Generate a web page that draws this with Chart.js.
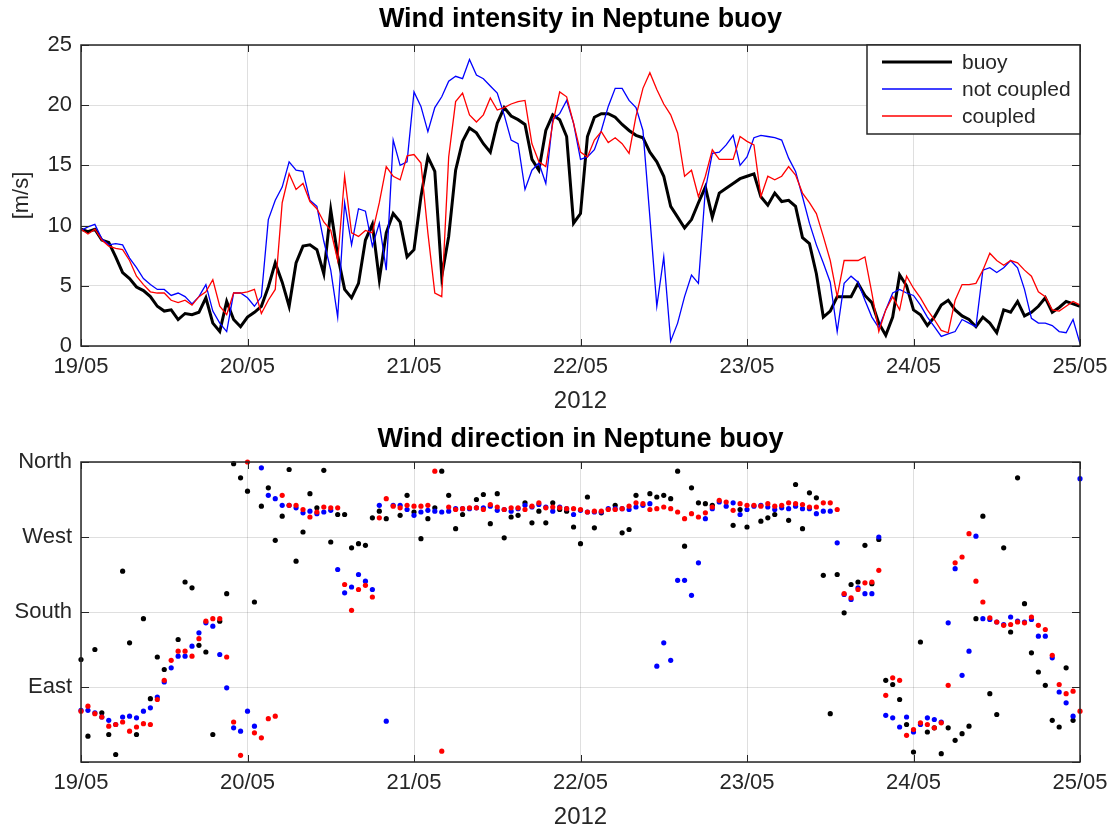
<!DOCTYPE html>
<html lang="en">
  <head>
    <meta charset="UTF-8" />
    <title>Wind in Neptune buoy</title>
    <style>
      * {
        box-sizing: border-box;
        margin: 0;
        padding: 0;
      }
      body {
        background: #fff;
        width: 1118px;
        height: 832px;
        overflow: hidden;
      }
      canvas {
        display: block;
      }
    </style>
  </head>
  <body>
    <canvas id="speed" width="1118" height="416"></canvas>
    <canvas id="direction" width="1118" height="416"></canvas>

    <script src="https://cdn.jsdelivr.net/npm/chart.js"></script>
    <script>
      // x axis: hours from 19/05 00:00, one tick per day
      const dayLabels = ["19/05", "20/05", "21/05", "22/05", "23/05", "24/05", "25/05"];
      const dirLabels = ["", "East", "South", "West", "North"];

      // wind speed [m/s], hourly, h0..h144
      const buoySpeed = [
        9.7, 9.5, 9.7, 8.8, 8.6, 7.4, 6.1, 5.6, 4.9, 4.6, 4.1, 3.3,
        2.9, 3.0, 2.2, 2.7, 2.6, 2.8, 4.0, 1.9, 1.2, 3.7, 2.2, 1.6,
        2.4, 2.8, 3.3, 4.9, 6.9, 5.3, 3.3, 6.9, 8.3, 8.4, 8.0, 6.0,
        11.3, 7.5, 4.7, 4.0, 5.2, 8.8, 10.1, 5.5, 9.4, 11.0, 10.3, 7.4,
        8.0, 12.4, 15.7, 14.5, 5.8, 9.1, 14.6, 17.0, 18.1, 17.7, 16.8, 16.1,
        18.5, 19.8, 19.1, 18.8, 18.4, 15.5, 14.6, 17.9, 19.2, 18.8, 17.4, 10.2,
        11.0, 17.4, 19.0, 19.3, 19.3, 19.0, 18.4, 17.9, 17.5, 17.3, 16.1, 15.3,
        14.1, 11.6, 10.7, 9.8, 10.5, 11.9, 13.2, 10.7, 12.7, 13.1, 13.5, 13.9,
        14.1, 14.3, 12.4, 11.7, 12.7, 12.0, 12.1, 11.6, 9.0, 8.5, 6.0, 2.4,
        2.9, 4.1, 4.1, 4.1, 5.2, 4.2, 3.6, 1.9, 0.9, 2.4, 5.9, 5.0,
        3.0, 2.6, 1.7, 2.4, 3.4, 3.8, 3.0, 2.5, 2.2, 1.6, 2.4, 1.9,
        1.1, 3.0, 2.8, 3.7, 2.5, 2.8, 3.3, 4.0, 2.8, 3.2, 3.7, 3.5,
        3.3,
      ];
      const notCoupledSpeed = [
        9.6, 9.9, 10.1, 8.9, 8.4, 8.5, 8.4, 7.3, 6.5, 5.6, 5.1, 4.7,
        4.7, 4.2, 4.4, 4.1, 3.5, 4.1, 5.1, 2.9, 1.9, 1.2, 4.4, 4.4,
        4.0, 3.3, 4.1, 10.5, 12.1, 13.2, 15.3, 14.6, 14.5, 12.1, 11.6, 8.7,
        6.3, 2.4, 11.9, 8.4, 11.4, 11.2, 8.3, 10.2, 6.3, 17.1, 15.0, 15.3,
        21.1, 19.9, 17.8, 19.8, 20.7, 22.0, 22.4, 22.2, 23.8, 22.5, 22.2, 21.6,
        21.0, 19.2, 17.1, 16.8, 13.0, 14.6, 15.2, 13.5, 18.8, 19.3, 20.4, 18.5,
        15.5, 15.7, 16.3, 17.9, 19.9, 21.4, 21.4, 20.4, 19.8, 17.9, 10.7, 3.3,
        7.4, 0.4, 1.9, 4.1, 5.9, 5.2, 13.0, 16.0, 16.1, 16.7, 17.5, 15.0,
        15.7, 17.3, 17.5, 17.4, 17.3, 17.1, 15.6, 14.5, 12.4, 10.2, 8.4, 6.9,
        5.3, 1.2, 5.2, 5.8, 5.3, 3.8, 2.4, 1.5, 3.0, 4.4, 4.7, 4.4,
        4.2, 3.4, 2.4, 1.6, 0.8, 1.0, 1.2, 2.2, 1.9, 1.6, 6.3, 6.5,
        6.1, 6.5, 7.1, 6.5, 4.7, 2.3, 1.9, 1.9, 1.7, 1.2, 1.1, 2.2,
        0.2,
      ];
      const coupledSpeed = [
        9.7, 9.3, 9.7, 8.8, 8.3, 8.1, 8.0, 7.1, 5.8, 5.1, 4.5, 4.4,
        4.4, 3.8, 3.6, 3.8, 3.4, 4.1, 4.5, 5.5, 3.3, 2.6, 4.4, 4.4,
        4.5, 4.7, 2.7, 3.8, 4.7, 11.9, 14.3, 13.0, 13.5, 12.0, 11.4, 10.3,
        9.6, 7.1, 14.1, 9.4, 9.1, 9.6, 9.4, 11.9, 14.9, 14.1, 13.8, 15.8,
        15.9, 15.2, 9.4, 4.4, 4.1, 15.7, 20.3, 21.0, 19.2, 18.6, 19.2, 20.6,
        19.6, 19.8, 20.1, 20.3, 20.4, 16.8, 15.3, 14.9, 18.5, 21.1, 20.7, 18.5,
        16.1, 15.7, 17.1, 17.8, 16.9, 17.3, 16.8, 16.0, 19.1, 21.4, 22.7, 21.3,
        20.1, 19.2, 17.7, 14.1, 14.6, 12.4, 14.1, 16.3, 15.5, 15.5, 15.5, 17.4,
        17.0, 16.7, 12.4, 14.1, 13.8, 14.1, 14.9, 14.2, 12.7, 11.9, 11.0, 9.1,
        7.1, 4.1, 7.1, 7.1, 7.1, 7.4, 4.4, 1.2, 3.0, 4.1, 3.0, 5.8,
        4.8, 4.0, 3.0, 2.2, 1.3, 1.1, 3.8, 5.1, 5.1, 5.2, 6.3, 7.7,
        7.1, 6.7, 7.1, 6.9, 6.3, 5.8, 4.5, 4.1, 3.0, 2.9, 3.3, 3.7,
        3.4,
      ];

      // wind direction [deg, 90 = East ... 360 = North], hourly, null = no sample
      const buoyDir = [
        123, 31, 135, 59, 33, 9, 229, 143, 33, 172, 76, 126,
        111, null, 147, 216, 209, 140, 132, 33, 169, 202, 358, 341,
        325, 192, 307, 329, 266, 295, 351, 241, 276, 322, 305, 350,
        264, 297, 297, 257, 262, 260, 293, 301, 292, null, 296, 320,
        300, 268, 292, 305, 349, 320, 280, 297, null, 315, 321, 286,
        322, 269, 294, 296, 311, 287, 301, 287, 311, 303, 301, 282,
        262, 318, 281, 299, null, 308, 275, 279, 320, null, 322, 318,
        320, 316, 349, 259, 329, 311, 310, 308, null, null, 284, 303,
        282, null, 289, 293, 297, null, 290, 333, 280, 323, 317, 224,
        58, 225, 179, 213, 216, 260, 214, 267, 98, 93, 75, 45,
        12, 144, 36, 41, 10, 41, 26, 34, 43, 172, 295, 82,
        57, 257, 156, 341, 190, 131, 108, 92, 50, 42, 113, 50,
        null,
      ];
      const notCoupledDir = [
        62, 62, 59, 54, 50, 45, 54, 55, 53, 61, 65, 78,
        96, 113, 127, 127, 139, 155, 167, 163, 129, 89, 41, 37,
        61, 43, 353, 320, 316, 308, 308, 305, 299, 301, 298, 300,
        302, 231, 203, 210, 225, 217, 207, 308, 49, 308, 308, 303,
        296, 300, 302, 301, 300, 301, 304, 304, 304, 305, 305, 307,
        302, 303, 301, 304, 308, 306, 309, 306, 301, 306, 304, 297,
        302, 300, 300, 300, 304, 304, 304, 303, 306, 308, 310, 115,
        143, 122, 218, 218, 200, 239, 292, 304, 312, 307, 311, 297,
        303, 307, 308, 306, 303, 305, 304, 307, 304, 304, 298, 301,
        301, 263, 201, 195, 209, 202, 202, 270, 56, 53, 42, 54,
        36, 45, 53, 51, 48, 167, 232, 104, 133, 271, 172, 171,
        168, 165, 174, 169, 168, 171, 151, 151, 125, 84, 71, 55,
        340,
      ];
      const coupledDir = [
        61, 67, 58, 54, 43, 45, 48, 37, 42, 46, 45, 75,
        98, 122, 133, 133, 127, 148, 169, 172, 172, 126, 48, 8,
        360, 35, 29, 52, 55, 320, 308, 308, 303, 294, 300, 306,
        305, 305, 213, 182, 207, 212, 198, 293, 316, 307, 305, 308,
        307, 307, 308, 349, 13, 306, 303, 304, 305, 305, 303, 309,
        306, 303, 305, 305, 303, 307, 311, 305, 306, 305, 304, 304,
        303, 300, 301, 301, 303, 303, 304, 307, 311, 310, 303, 304,
        306, 304, 300, 292, 298, 294, 299, 306, 314, 312, 302, 310,
        308, 308, 307, 310, 307, 308, 311, 310, 309, 306, 306, 311,
        311, 303, 202, 197, 207, 215, 216, 230, 80, 101, 98, 32,
        39, 47, 45, 41, 47, 92, 239, 246, 274, 217, 192, 173,
        168, 164, 165, 168, 167, 174, 164, 159, 128, 93, 82, 85,
        61,
      ];

      const textColor = "#262626";
      const gridColor = "rgba(38, 38, 38, 0.15)";
      const family = '"Liberation Sans", Arial, Helvetica, sans-serif';
      Chart.defaults.font.family = family;
      Chart.defaults.color = textColor;

      const toPoints = (values) => values.map((v, h) => ({ x: h, y: v }));

      // matlab-like box, inward ticks, centred title and boxed legend
      const matlabAxes = {
        id: "matlabAxes",
        afterDraw(chart, args, opts) {
          const { ctx, chartArea: a, scales } = chart;
          ctx.save();
          ctx.strokeStyle = textColor;
          ctx.lineWidth = 1;
          ctx.beginPath();
          scales.x.ticks.forEach((t) => {
            const px = Math.round(scales.x.getPixelForValue(t.value)) + 0.5;
            ctx.moveTo(px, a.bottom);
            ctx.lineTo(px, a.bottom - 7);
            ctx.moveTo(px, a.top);
            ctx.lineTo(px, a.top + 7);
          });
          scales.y.ticks.forEach((t) => {
            const py = Math.round(scales.y.getPixelForValue(t.value)) + 0.5;
            ctx.moveTo(a.left, py);
            ctx.lineTo(a.left + 8, py);
            ctx.moveTo(a.right, py);
            ctx.lineTo(a.right - 8, py);
          });
          ctx.stroke();

          ctx.lineWidth = 1.5;
          ctx.strokeRect(a.left, a.top, a.right - a.left, a.bottom - a.top);

          ctx.fillStyle = "#000";
          ctx.font = "bold 27px " + family;
          ctx.textAlign = "center";
          ctx.textBaseline = "middle";
          ctx.fillText(opts.title, (a.left + a.right) / 2, opts.titleY);

          if (opts.legend) {
            const bw = 213, bh = 89;
            const bx = a.right - bw, by = a.top;
            ctx.fillStyle = "#fff";
            ctx.fillRect(bx, by, bw, bh);
            ctx.strokeStyle = textColor;
            ctx.lineWidth = 1.5;
            ctx.strokeRect(bx, by, bw, bh);
            ctx.font = "21px " + family;
            ctx.textAlign = "left";
            chart.data.datasets.forEach((ds, i) => {
              const y = by + 17 + i * 27;
              ctx.strokeStyle = ds.borderColor;
              ctx.lineWidth = ds.borderWidth;
              ctx.beginPath();
              ctx.moveTo(bx + 15, y);
              ctx.lineTo(bx + 85, y);
              ctx.stroke();
              ctx.fillStyle = textColor;
              ctx.fillText(ds.label, bx + 95, y + 1);
            });
          }
          ctx.restore();
        },
      };

      function xScale() {
        return {
          type: "linear",
          min: 0,
          max: 144,
          afterFit: (s) => {
            s.height = 70;
          },
          ticks: {
            stepSize: 24,
            padding: 8,
            maxRotation: 0,
            autoSkip: false,
            font: { size: 22 },
            color: textColor,
            callback: (v) => dayLabels[v / 24],
          },
          grid: { color: gridColor, drawTicks: false },
          border: { display: false },
          title: {
            display: true,
            text: "2012",
            font: { size: 24 },
            color: textColor,
            padding: { top: 0, bottom: 0 },
          },
        };
      }

      function baseOptions(yScale, plugin, topPad) {
        return {
          responsive: false,
          animation: false,
          layout: { padding: { top: topPad, right: 38, bottom: 0, left: 0 } },
          plugins: {
            legend: { display: false },
            tooltip: { enabled: false },
            matlabAxes: plugin,
          },
          scales: { x: xScale(), y: yScale },
        };
      }

      new Chart(document.getElementById("speed"), {
        type: "line",
        data: {
          datasets: [
            {
              label: "buoy",
              data: toPoints(buoySpeed),
              borderColor: "#000000",
              borderWidth: 3,
              pointRadius: 0,
              order: 3,
            },
            {
              label: "not coupled",
              data: toPoints(notCoupledSpeed),
              borderColor: "#0000ff",
              borderWidth: 1.3,
              pointRadius: 0,
              order: 2,
            },
            {
              label: "coupled",
              data: toPoints(coupledSpeed),
              borderColor: "#ff0000",
              borderWidth: 1.3,
              pointRadius: 0,
              order: 1,
            },
          ],
        },
        options: baseOptions(
          {
            min: 0,
            max: 25,
            afterFit: (s) => {
              s.width = 81;
            },
            ticks: { stepSize: 5, padding: 9, font: { size: 22 }, color: textColor },
            grid: { color: gridColor, drawTicks: false },
            border: { display: false },
            title: {
              display: true,
              text: "[m/s]",
              font: { size: 22 },
              color: textColor,
              padding: { top: 9, bottom: 0 },
            },
          },
          { title: "Wind intensity in Neptune buoy", titleY: 20, legend: true },
          45
        ),
        plugins: [matlabAxes],
      });

      const dot = (label, values, color, order) => ({
        label: label,
        data: toPoints(values),
        backgroundColor: color,
        borderColor: color,
        pointRadius: 2.6,
        pointBorderWidth: 0,
        clip: false,
        order: order,
      });

      new Chart(document.getElementById("direction"), {
        type: "scatter",
        data: {
          datasets: [
            dot("buoy", buoyDir, "#000000", 3),
            dot("not coupled", notCoupledDir, "#0000ff", 2),
            dot("coupled", coupledDir, "#ff0000", 1),
          ],
        },
        options: baseOptions(
          {
            min: 0,
            max: 360,
            afterFit: (s) => {
              s.width = 81;
            },
            ticks: {
              stepSize: 90,
              padding: 9,
              font: { size: 22 },
              color: textColor,
              callback: (v) => dirLabels[v / 90],
            },
            grid: { color: gridColor, drawTicks: false },
            border: { display: false },
          },
          { title: "Wind direction in Neptune buoy", titleY: 24, legend: false },
          46
        ),
        plugins: [matlabAxes],
      });
    </script>
  </body>
</html>
